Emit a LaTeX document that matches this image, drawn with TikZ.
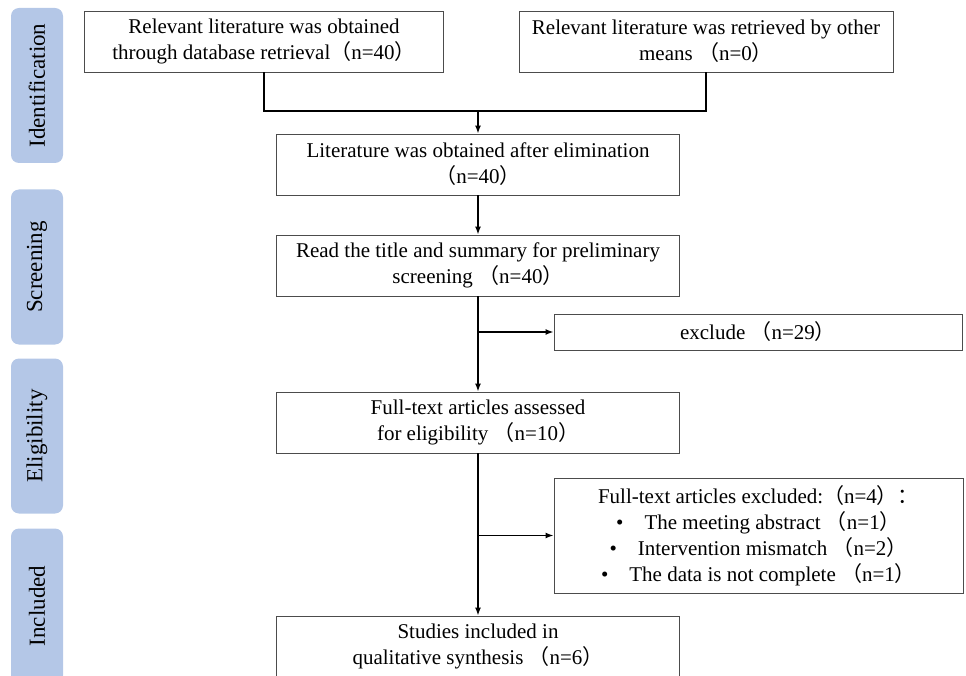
\documentclass[tikz,border=0pt]{standalone}
\usepackage{fontspec}
\setmainfont{Liberation Serif}
\newfontfamily\cjk{Noto Sans CJK SC}
\usetikzlibrary{arrows.meta}

% full-width brackets as printed in the figure
\newcommand{\lbr}{{\cjk （}}
\newcommand{\rbr}{{\cjk ）}}
\newcommand{\cln}{{\cjk ：}}

\definecolor{tagblue}{RGB}{180,199,231}

\begin{document}
\begin{tikzpicture}[x=1pt, y=-1pt,
    font=\fontsize{21}{26}\selectfont,
    box/.style={draw=black!70, line width=0.9pt, align=center,
        minimum width=403pt, minimum height=61pt, inner sep=2pt},
    tag/.style={fill=tagblue, rounded corners=8pt, rotate=90,
        minimum width=155pt, minimum height=52pt,
        font=\fontsize{23}{26}\selectfont},
    link/.style={line width=1.5pt},
    arr/.style={link, -{Latex[length=8pt,width=6pt]}}]

    \useasboundingbox (0,0) rectangle (966,676);
    \clip (0,0) rectangle (966,676);

    % stage tags on the left
    \node[tag] (tid) at (37,85.5) {Identification};
    \node[tag] (tsc) at (37,267) {Screening};
    \node[tag] (tel) at (37,436) {Eligibility};
    \node[tag] (tin) at (37,606) {Included};

    % main column
    \node[box, minimum width=359pt] (db) at (264,41.5)
        {Relevant literature was obtained\\through database retrieval\lbr n=40\rbr};
    \node[box, minimum width=374pt] (other) at (706,41.5)
        {Relevant literature was retrieved by other\\means\ \lbr n=0\rbr};
    \node[box] (elim) at (478,164.5)
        {Literature was obtained after elimination\\\lbr n=40\rbr};
    \node[box] (title) at (478,265.5)
        {Read the title and summary for preliminary\\screening\ \lbr n=40\rbr};
    \node[box] (full) at (478,422.5)
        {Full-text articles assessed\\for eligibility\ \lbr n=10\rbr};
    \node[box] (incl) at (478,646.5)
        {Studies included in\\qualitative synthesis\ \lbr n=6\rbr};

    % exclusion boxes
    \node[box, minimum width=408pt, minimum height=36pt] (exa) at (758,332)
        {exclude\ \lbr n=29\rbr};
    \node[box, minimum width=409pt, minimum height=115pt] (exb) at (758.5,535.5)
        {Full-text articles excluded:\lbr n=4\rbr\cln\\
         \textbullet\quad The meeting abstract\ \lbr n=1\rbr\\
         \textbullet\quad Intervention mismatch\ \lbr n=2\rbr\\
         \textbullet\quad The data is not complete\ \lbr n=1\rbr};

    % connectors
    \coordinate (join) at (478,111);
    \draw[link] (db.south) |- (join) -| (other.south);
    \draw[arr] (join) -- (elim.north);
    \draw[arr] (elim) -- (title);
    \draw[arr] (title) -- (full);
    \draw[arr] (full) -- (incl);
    \draw[arr] (title.south |- exa.west) -- (exa.west);
    \draw[arr] (full.south |- exb.west) -- (exb.west);

\end{tikzpicture}
\end{document}
